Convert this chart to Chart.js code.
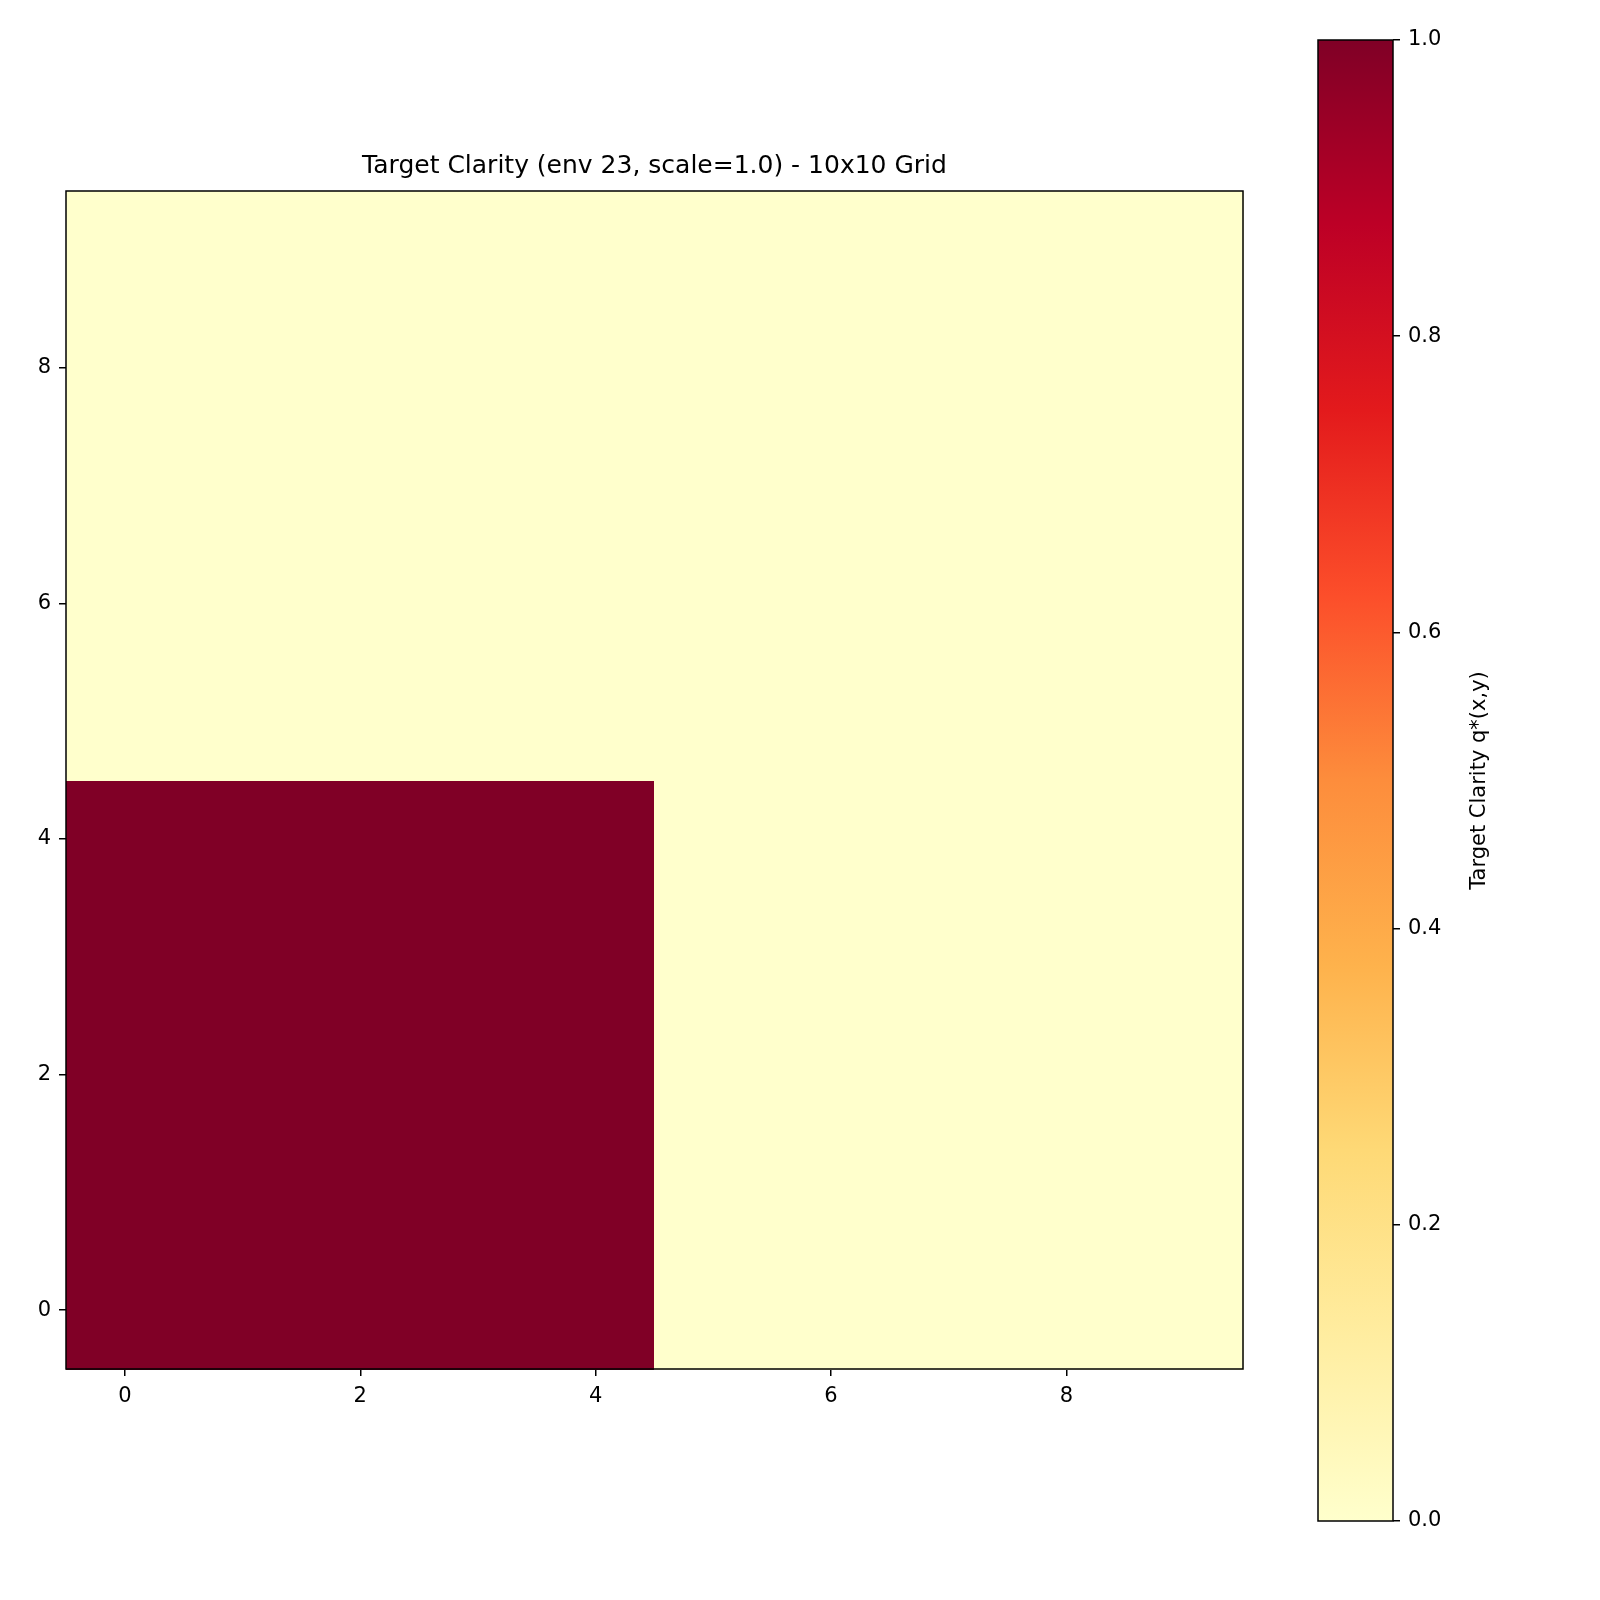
<!DOCTYPE html>
<html>
<head>
<meta charset="utf-8">
<script src="https://cdn.jsdelivr.net/npm/chart.js@4.4.0/dist/chart.umd.min.js"></script>
<style>
  body { margin: 0; background: #fff; }
  #wrap { position: relative; width: 1600px; height: 1600px; }
  canvas { position: absolute; top: 0; }
</style>
</head>
<body>
<div id="wrap">
  <canvas id="main" style="left:0;width:1300px;height:1600px" width="1300" height="1600"></canvas>
  <canvas id="cbar" style="left:1250px;width:350px;height:1600px" width="350" height="1600"></canvas>
</div>
<script>
// ---------- Data ----------
const titleText = 'Target Clarity (env 23, scale=1.0) - 10x10 Grid';
const cbarLabel = 'Target Clarity q*(x,y)';
const xCells = [0, 1, 2, 3, 4, 5, 6, 7, 8, 9];
const yCells = [0, 1, 2, 3, 4, 5, 6, 7, 8, 9];
// one row per y (y=0 first), one value per x
const rowLow = [1, 1, 1, 1, 1, 0, 0, 0, 0, 0];
const rowHigh = [0, 0, 0, 0, 0, 0, 0, 0, 0, 0];
const zValues = [rowLow, rowLow, rowLow, rowLow, rowLow, rowHigh, rowHigh, rowHigh, rowHigh, rowHigh];
const axisTicks = [0, 2, 4, 6, 8];
const cbarTicks = [0, 0.2, 0.4, 0.6, 0.8, 1.0];

// YlOrRd colormap stops
const ylorrd = ['#ffffcc', '#ffeda0', '#fed976', '#feb24c', '#fd8d3c', '#fc4e2a', '#e31a1c', '#bd0026', '#800026'];

function hexToRgb(h) {
  return [1, 3, 5].map(i => parseInt(h.substr(i, 2), 16));
}
function colorFor(v) {
  const t = Math.max(0, Math.min(1, v)) * (ylorrd.length - 1);
  const i = Math.min(Math.floor(t), ylorrd.length - 2);
  const f = t - i;
  const a = hexToRgb(ylorrd[i]), b = hexToRgb(ylorrd[i + 1]);
  const c = a.map((x, k) => Math.round(x + (b[k] - x) * f));
  return `rgb(${c[0]},${c[1]},${c[2]})`;
}

const FONT = 'DejaVu Sans';
Chart.defaults.font.family = FONT;
Chart.defaults.color = '#000';
Chart.defaults.animation = false;

function tickSetter(vals) {
  return scale => { scale.ticks = vals.map(v => ({ value: v })); };
}

// ---------- Heatmap ----------
const heatPlugin = {
  id: 'heat',
  beforeDatasetsDraw(chart) {
    const { ctx, scales: { x, y }, chartArea: a } = chart;
    ctx.save();
    yCells.forEach((yv, r) => {
      xCells.forEach((xv, c) => {
        const x0 = x.getPixelForValue(xv - 0.5), x1 = x.getPixelForValue(xv + 0.5);
        const y0 = y.getPixelForValue(yv + 0.5), y1 = y.getPixelForValue(yv - 0.5);
        ctx.fillStyle = colorFor(zValues[r][c]);
        ctx.fillRect(Math.floor(x0), Math.floor(y0), Math.ceil(x1 - x0) + 1, Math.ceil(y1 - y0) + 1);
      });
    });
    ctx.strokeStyle = '#000';
    ctx.lineWidth = 1.5;
    ctx.strokeRect(a.left, a.top, a.right - a.left, a.bottom - a.top);
    ctx.fillStyle = '#000';
    ctx.font = `25px ${FONT}`;
    ctx.textAlign = 'center';
    ctx.textBaseline = 'bottom';
    ctx.fillText(titleText, (a.left + a.right) / 2, a.top - 12);
    ctx.restore();
  }
};

const tickStyle = { display: true, drawOnChartArea: false, drawTicks: true, tickLength: 7, color: '#000', lineWidth: 1.5 };

new Chart(document.getElementById('main'), {
  type: 'scatter',
  data: { datasets: [{ data: [] }] },
  options: {
    responsive: false,
    layout: { padding: { left: 0, right: 57, top: 191, bottom: 171 } },
    plugins: { legend: { display: false }, tooltip: { enabled: false } },
    scales: {
      x: {
        type: 'linear', min: -0.5, max: 9.5,
        afterBuildTicks: tickSetter(axisTicks),
        afterFit: s => { s.height = 60; },
        grid: tickStyle, border: { display: false },
        ticks: { font: { size: 21 }, padding: 8 }
      },
      y: {
        type: 'linear', min: -0.5, max: 9.5,
        afterBuildTicks: tickSetter(axisTicks),
        afterFit: s => { s.width = 66; },
        grid: tickStyle, border: { display: false },
        ticks: { font: { size: 21 }, padding: 8 }
      }
    }
  },
  plugins: [heatPlugin]
});

// ---------- Colorbar ----------
const cbarPlugin = {
  id: 'cbarFill',
  beforeDatasetsDraw(chart) {
    const { ctx, scales: { y }, chartArea: a } = chart;
    ctx.save();
    const top = y.getPixelForValue(1), bot = y.getPixelForValue(0);
    const g = ctx.createLinearGradient(0, bot, 0, top);
    ylorrd.forEach((c, i) => g.addColorStop(i / (ylorrd.length - 1), c));
    ctx.fillStyle = g;
    ctx.fillRect(a.left, top, a.right - a.left, bot - top);
    ctx.strokeStyle = '#000';
    ctx.lineWidth = 1.5;
    ctx.strokeRect(a.left, a.top, a.right - a.left, a.bottom - a.top);
    ctx.fillStyle = '#000';
    ctx.font = `21px ${FONT}`;
    ctx.textAlign = 'center';
    ctx.textBaseline = 'middle';
    ctx.translate(230, (a.top + a.bottom) / 2);
    ctx.rotate(-Math.PI / 2);
    ctx.fillText(cbarLabel, 0, 0);
    ctx.restore();
  }
};

new Chart(document.getElementById('cbar'), {
  type: 'scatter',
  data: { datasets: [{ data: [] }] },
  options: {
    responsive: false,
    layout: { padding: { left: 68, right: 0, top: 40, bottom: 79 } },
    plugins: { legend: { display: false }, tooltip: { enabled: false } },
    scales: {
      x: { type: 'linear', display: false, min: 0, max: 1 },
      y: {
        type: 'linear', position: 'right', min: 0, max: 1,
        afterBuildTicks: tickSetter(cbarTicks),
        afterFit: s => { s.width = 207; },
        grid: tickStyle, border: { display: false },
        ticks: { font: { size: 21 }, padding: 8, callback: v => v.toFixed(1) }
      }
    }
  },
  plugins: [cbarPlugin]
});
</script>
</body>
</html>
